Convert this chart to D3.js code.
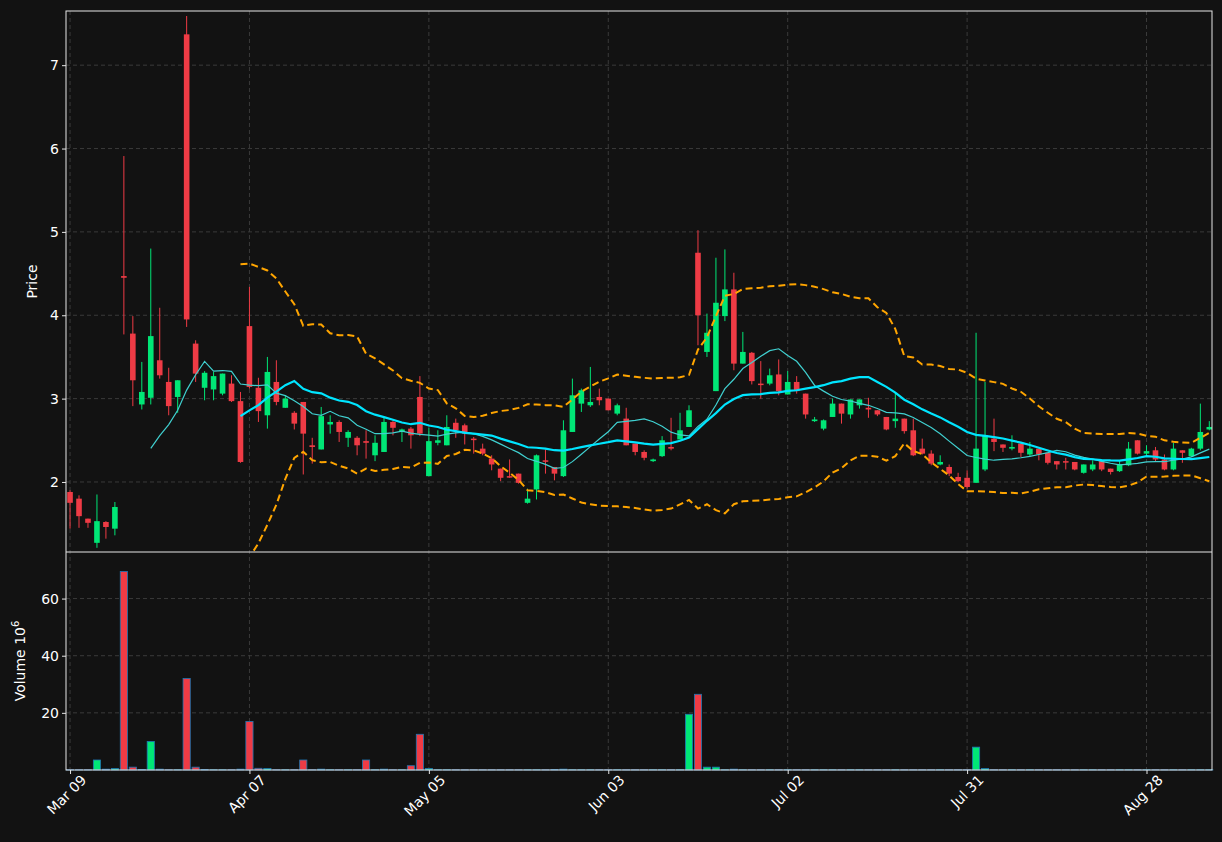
<!DOCTYPE html>
<html>
<head>
<meta charset="utf-8">
<script src="https://cdn.jsdelivr.net/npm/d3@7"></script>
<style>
  body { margin: 0; background: #121212; }
  text { font-family: "DejaVu Sans", sans-serif; }
</style>
</head>
<body>
<div id="chart"></div>
<script>
// OHLC, one entry per trading day
const opens = [1.88,1.80,1.56,1.27,1.52,1.44,4.47,3.78,2.93,3.01,3.46,3.20,3.02,7.37,3.66,3.13,3.11,3.06,3.18,2.97,
  3.87,3.13,2.80,3.20,2.89,2.83,2.96,2.44,2.39,2.69,2.72,2.53,2.53,2.49,2.32,2.36,2.72,2.60,2.64,3.02,
  2.07,2.47,2.44,2.71,2.68,2.52,2.40,2.28,2.16,2.07,2.10,1.75,1.91,2.26,2.18,2.07,2.60,2.94,2.92,3.02,
  3.00,2.82,2.76,2.46,2.36,2.25,2.31,2.42,2.51,2.66,4.75,3.56,3.09,3.99,4.31,3.42,3.55,3.18,3.18,3.29,
  3.05,3.20,3.06,2.73,2.64,2.78,2.94,2.81,2.92,2.89,2.86,2.78,2.73,2.76,2.62,2.40,2.34,2.21,2.18,2.06,
  2.05,1.99,2.15,2.52,2.45,2.40,2.46,2.33,2.40,2.35,2.25,2.25,2.24,2.11,2.15,2.25,2.16,2.13,2.20,2.50,
  2.34,2.38,2.27,2.15,2.38,2.31,2.40,2.63];
const closes = [1.75,1.59,1.51,1.53,1.46,1.70,4.45,3.22,3.08,3.75,3.28,2.91,3.22,3.95,3.30,3.31,3.27,3.30,2.97,2.24,
  3.14,2.85,3.32,2.96,3.00,2.70,2.58,2.42,2.79,2.72,2.60,2.60,2.44,2.47,2.47,2.72,2.65,2.63,2.56,2.58,
  2.49,2.50,2.66,2.62,2.58,2.51,2.34,2.21,2.05,2.06,1.99,1.80,2.32,2.25,2.10,2.62,3.04,3.10,2.96,2.98,
  2.86,2.92,2.44,2.36,2.29,2.27,2.50,2.40,2.62,2.86,4.00,3.79,4.15,4.31,3.42,3.56,3.21,3.17,3.28,3.09,
  3.20,3.09,2.81,2.75,2.74,2.94,2.82,2.99,2.99,2.87,2.81,2.63,2.76,2.61,2.32,2.34,2.22,2.24,2.10,2.01,
  1.94,2.40,2.56,2.48,2.41,2.42,2.35,2.40,2.33,2.23,2.21,2.24,2.15,2.21,2.21,2.15,2.12,2.21,2.40,2.34,
  2.37,2.27,2.15,2.40,2.35,2.40,2.60,2.66];
const highs = [1.90,1.84,1.56,1.85,1.53,1.76,5.91,3.99,3.44,4.80,4.09,3.37,3.22,7.59,3.70,3.33,3.32,3.30,3.28,3.08,
  4.34,3.25,3.50,3.46,3.04,2.85,2.96,2.53,2.90,2.80,2.74,2.62,2.55,2.62,2.56,2.78,2.74,2.64,2.66,3.27,
  2.65,2.62,2.80,2.76,2.70,2.54,2.46,2.32,2.16,2.27,2.10,1.92,2.33,2.39,2.18,2.74,3.24,3.12,3.38,3.12,
  3.00,2.94,2.89,2.46,2.38,2.28,2.55,2.77,2.83,2.92,5.02,4.02,4.69,4.79,4.51,3.80,3.56,3.45,3.36,3.47,
  3.33,3.27,3.06,2.78,2.75,3.00,2.94,2.99,2.99,3.01,2.86,2.78,3.07,2.76,2.76,2.52,2.38,2.32,2.21,2.11,
  2.14,3.79,3.20,2.76,2.45,2.56,2.46,2.48,2.40,2.35,2.25,2.29,2.24,2.21,2.26,2.25,2.16,2.26,2.48,2.50,
  2.44,2.42,2.33,2.47,2.38,2.41,2.94,2.73];
const lows = [1.44,1.45,1.45,1.21,1.32,1.36,3.77,2.91,2.87,2.93,3.24,2.80,2.83,3.86,3.20,2.98,2.98,3.04,2.96,2.23,
  3.12,2.72,2.64,2.92,2.89,2.63,2.09,2.22,2.39,2.58,2.48,2.42,2.32,2.28,2.25,2.36,2.56,2.48,2.40,2.55,
  2.07,2.44,2.44,2.53,2.45,2.34,2.32,2.14,2.01,2.05,1.98,1.74,1.79,2.10,2.02,2.06,2.60,2.84,2.90,2.92,
  2.86,2.80,2.44,2.32,2.26,2.24,2.30,2.38,2.51,2.66,3.64,3.50,3.09,3.93,3.34,3.42,3.17,3.00,3.16,3.04,
  3.05,3.06,2.76,2.72,2.62,2.78,2.70,2.76,2.88,2.77,2.79,2.62,2.65,2.58,2.31,2.33,2.20,2.20,2.07,2.00,
  1.92,1.99,2.13,2.37,2.36,2.38,2.30,2.31,2.26,2.21,2.15,2.15,2.14,2.10,2.13,2.13,2.09,2.12,2.19,2.33,
  2.32,2.25,2.14,2.14,2.23,2.30,2.38,2.62];
// volume in millions
const volumes = [0.1,0.1,0.1,3.5,0.3,0.5,69.5,1.0,0.2,10.0,0.3,0.1,0.1,32.0,1.0,0.2,0.1,0.1,0.1,0.3,
  17.0,0.6,0.5,0.1,0.1,0.1,3.5,0.1,0.3,0.1,0.1,0.1,0.1,3.5,0.1,0.3,0.1,0.1,1.5,12.5,
  0.5,0.1,0.1,0.1,0.1,0.1,0.1,0.1,0.1,0.1,0.1,0.1,0.1,0.1,0.2,0.3,0.1,0.1,0.1,0.1,
  0.1,0.1,0.1,0.1,0.1,0.1,0.1,0.1,0.1,19.5,26.5,1.0,1.0,0.1,0.3,0.1,0.1,0.1,0.1,0.1,
  0.1,0.1,0.1,0.1,0.1,0.1,0.1,0.1,0.1,0.1,0.1,0.1,0.1,0.1,0.1,0.1,0.1,0.1,0.1,0.1,
  0.1,8.0,0.5,0.1,0.1,0.1,0.1,0.1,0.1,0.1,0.1,0.1,0.1,0.1,0.1,0.1,0.1,0.1,0.1,0.1,
  0.1,0.1,0.1,0.1,0.1,0.1,0.1,0.1];
const tickIndex = [0, 20, 40, 60, 80, 100, 120];
const tickLabels = ["Mar 09", "Apr 07", "May 05", "Jun 03", "Jul 02", "Jul 31", "Aug 28"];
const priceTicks = [2, 3, 4, 5, 6, 7];
const volumeTicks = [20, 40, 60];

const width = 1222, height = 842;
const left = 66, right = 1212, priceTop = 11, priceBottom = 552, volBottom = 770;
const upColor = "#00e676", downColor = "#ef3b45";

const data = opens.map((o, i) => ({ i, o, c: closes[i], h: highs[i], l: lows[i], v: volumes[i] }));

// moving averages and bollinger bands derived from the closes
function rolling(n, fn) {
    return closes.map((_, i) => i < n - 1 ? null : fn(closes.slice(i - n + 1, i + 1)));
}
const ma10 = rolling(10, d3.mean);
const ma20 = rolling(20, d3.mean);
const upper = rolling(20, w => d3.mean(w) + 2 * d3.deviation(w));
const lower = rolling(20, w => d3.mean(w) - 2 * d3.deviation(w));

const svg = d3.select("#chart").append("svg")
    .attr("width", width).attr("height", height)
    .style("background", "#121212");

const x = d3.scaleLinear().domain([-0.45, 127.3]).range([left, right]);
const y = d3.scaleLinear().domain([1.16, 7.65]).range([priceBottom, priceTop]);
const yv = d3.scaleLinear().domain([0, 76.3]).range([volBottom, priceBottom]);

svg.append("defs").append("clipPath").attr("id", "clipP")
    .append("rect").attr("x", left).attr("y", priceTop).attr("width", right - left).attr("height", priceBottom - priceTop);

// grids
const grid = svg.append("g").attr("stroke", "#3a3a3a").attr("stroke-dasharray", "4,3");
tickIndex.forEach(t => grid.append("line").attr("x1", x(t)).attr("x2", x(t)).attr("y1", priceTop).attr("y2", volBottom));
priceTicks.forEach(t => grid.append("line").attr("x1", left).attr("x2", right).attr("y1", y(t)).attr("y2", y(t)));
volumeTicks.forEach(t => grid.append("line").attr("x1", left).attr("x2", right).attr("y1", yv(t)).attr("y2", yv(t)));

// candles
const plot = svg.append("g").attr("clip-path", "url(#clipP)");
const candles = plot.selectAll(".candle").data(data).enter().append("g");
candles.append("line")
    .attr("x1", d => x(d.i)).attr("x2", d => x(d.i))
    .attr("y1", d => y(d.h)).attr("y2", d => y(d.l))
    .attr("stroke", d => d.c >= d.o ? upColor : downColor).attr("stroke-width", 1);
candles.append("rect")
    .attr("x", d => x(d.i) - 2.8).attr("width", 5.6)
    .attr("y", d => y(Math.max(d.o, d.c)))
    .attr("height", d => Math.max(1.5, Math.abs(y(d.o) - y(d.c))))
    .attr("fill", d => d.c >= d.o ? upColor : downColor);

// indicator lines
const lineOf = arr => d3.line().defined(d => d != null).x((d, i) => x(i)).y(d => y(d))(arr);
plot.append("path").attr("d", lineOf(upper)).attr("fill", "none").attr("stroke", "#ffa500").attr("stroke-width", 2).attr("stroke-dasharray", "7,4");
plot.append("path").attr("d", lineOf(lower)).attr("fill", "none").attr("stroke", "#ffa500").attr("stroke-width", 2).attr("stroke-dasharray", "7,4");
plot.append("path").attr("d", lineOf(ma10)).attr("fill", "none").attr("stroke", "#40d0d0").attr("stroke-width", 1.2);
plot.append("path").attr("d", lineOf(ma20)).attr("fill", "none").attr("stroke", "#00e5ff").attr("stroke-width", 2.2);

// volume
svg.append("g").selectAll("rect").data(data).enter().append("rect")
    .attr("x", d => x(d.i) - 3.6).attr("width", 7.2)
    .attr("y", d => yv(d.v)).attr("height", d => volBottom - yv(d.v))
    .attr("fill", d => d.c >= d.o ? upColor : downColor)
    .attr("stroke", "#1f77b4").attr("stroke-width", 0.8);

// frames
svg.append("rect").attr("x", left).attr("y", priceTop).attr("width", right - left).attr("height", volBottom - priceTop)
    .attr("fill", "none").attr("stroke", "#e6e6e6").attr("stroke-width", 1);
svg.append("line").attr("x1", left).attr("x2", right).attr("y1", priceBottom).attr("y2", priceBottom)
    .attr("stroke", "#e6e6e6");

// axes
const yAxis = svg.append("g").attr("transform", `translate(${left},0)`)
    .call(d3.axisLeft(y).tickValues(priceTicks).tickSize(4).tickFormat(d3.format("d")));
const vAxis = svg.append("g").attr("transform", `translate(${left},0)`)
    .call(d3.axisLeft(yv).tickValues(volumeTicks).tickSize(4));
const xAxis = svg.append("g").attr("transform", `translate(0,${volBottom})`)
    .call(d3.axisBottom(x).tickValues(tickIndex).tickSize(4).tickFormat((d, i) => tickLabels[i]));
[yAxis, vAxis, xAxis].forEach(a => {
    a.select(".domain").remove();
    a.selectAll("line").attr("stroke", "#e6e6e6");
    a.selectAll("text").attr("fill", "#ffffff").style("font-size", "14px");
});
xAxis.selectAll("text")
    .attr("text-anchor", "end").attr("dx", "0.3em").attr("dy", "0.9em")
    .attr("transform", "rotate(-45)");

svg.append("text").attr("transform", `translate(37,${(priceTop + priceBottom) / 2}) rotate(-90)`)
    .attr("text-anchor", "middle").attr("fill", "#fff").style("font-size", "14px").text("Price");
const vl = svg.append("text").attr("transform", `translate(25,${(priceBottom + volBottom) / 2}) rotate(-90)`)
    .attr("text-anchor", "middle").attr("fill", "#fff").style("font-size", "14px");
vl.append("tspan").text("Volume  10");
vl.append("tspan").attr("dy", "-6").style("font-size", "10px").text("6");
</script>
</body>
</html>
